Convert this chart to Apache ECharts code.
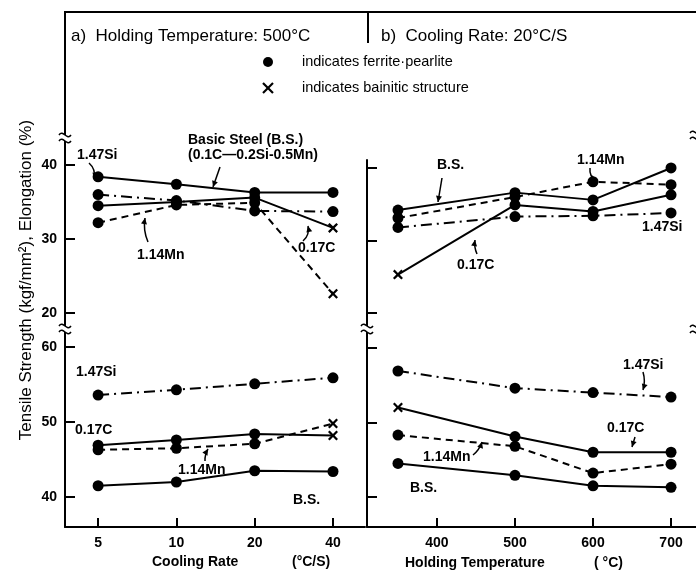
<!DOCTYPE html>
<html>
<head>
<meta charset="utf-8">
<script src="https://cdn.jsdelivr.net/npm/echarts@6/dist/echarts.min.js"></script>
<style>
html, body { margin: 0; padding: 0; background: #fff; }
#chart { width: 696px; height: 574px; }
</style>
</head>
<body>
<div id="chart"></div>
<script>
// x values and tick labels
var coolingRates = [5, 10, 20, 40];
var holdingTemps = [350, 500, 600, 700];
var rateTicks = [5, 10, 20, 40];
var tempTicks = [400, 500, 600, 700];
var elongTicks = [20, 30, 40];
var tensileTicks = [40, 50, 60];

// a) elongation vs cooling rate
var elongRateBS = [38.4, 37.4, 36.3, 36.3];
var elongRateSi = [36.0, 35.2, 33.8, 33.7];
var elongRateC  = [34.5, 35.0, 35.6, 31.5];
var elongRateMn = [32.2, 34.6, 34.9, 22.6];
// a) tensile strength vs cooling rate
var tsRateSi = [53.6, 54.3, 55.1, 55.9];
var tsRateC  = [46.9, 47.6, 48.4, 48.2];
var tsRateMn = [46.3, 46.5, 47.1, 49.8];
var tsRateBS = [41.5, 42.0, 43.5, 43.4];
// b) elongation vs holding temperature
var elongTempBS = [34.2, 36.6, 35.6, 40.0];
var elongTempMn = [33.1, 36.0, 38.1, 37.7];
var elongTempC  = [25.3, 34.9, 34.0, 36.3];
var elongTempSi = [31.8, 33.3, 33.4, 33.8];
// b) tensile strength vs holding temperature
var tsTempSi = [56.9, 54.6, 54.0, 53.4];
var tsTempC  = [52.0, 48.1, 46.0, 46.0];
var tsTempMn = [48.3, 46.8, 43.2, 44.4];
var tsTempBS = [44.5, 42.9, 41.5, 41.3];

// F = ferrite-pearlite, B = bainitic structure
var structAllF = ['F', 'F', 'F', 'F'];
var structRateLastB = ['F', 'F', 'F', 'B'];
var structTempFirstB = ['B', 'F', 'F', 'F'];

var FONT = "'Liberation Sans', Arial, sans-serif";
var CROSS = 'path://M0,1.6L1.6,0L5,3.4L8.4,0L10,1.6L6.6,5L10,8.4L8.4,10L5,6.6L1.6,10L0,8.4L3.4,5Z';
var SOLID = 'solid', DASHED = [7, 5], DASHDOT = [11, 5, 2, 5];

var chart = echarts.init(document.getElementById('chart'), null, { renderer: 'canvas' });

function makeSeries(idx, xs, ys, structure, dash) {
	var data = xs.map(function (x, i) {
		var bain = structure[i] === 'B';
		return {
			value: [x, ys[i]],
			symbol: bain ? CROSS : 'circle',
			symbolSize: bain ? 10 : 11
		};
	});
	return {
		type: 'line',
		xAxisIndex: idx,
		yAxisIndex: idx,
		data: data,
		lineStyle: { color: '#000', width: 2, type: dash },
		itemStyle: { color: '#000', borderWidth: 0 },
		emphasis: { disabled: true },
		z: 5
	};
}

function yAxis(idx, min, max, ticks, showLabels) {
	return {
		type: 'value', gridIndex: idx, min: min, max: max,
		axisLine: { show: true, lineStyle: { color: '#000', width: 2 } },
		axisTick: { show: true, inside: true, length: 10, customValues: ticks, lineStyle: { color: '#000', width: 2 } },
		axisLabel: { show: showLabels, customValues: ticks, color: '#000', fontFamily: FONT, fontWeight: 'bold', fontSize: 14, margin: 8 },
		splitLine: { show: false }
	};
}

function xAxis(idx, type, min, max, ticks, show) {
	return {
		type: type, gridIndex: idx, min: min, max: max, show: show,
		axisLine: { show: true, onZero: false, lineStyle: { color: '#000', width: 2 } },
		axisTick: { show: true, inside: true, length: 9, customValues: ticks, lineStyle: { color: '#000', width: 2 } },
		axisLabel: { show: true, customValues: ticks, color: '#000', fontFamily: FONT, fontWeight: 'bold', fontSize: 14, margin: 9 },
		splitLine: { show: false }
	};
}

var graphics = [];

function addText(t, x, y, size, weight, extra) {
	var el = {
		type: 'text', x: x, y: y, z: 20,
		style: {
			text: t, fill: '#000', fontFamily: FONT, fontSize: size, fontWeight: weight || 'normal',
			textAlign: 'left', textVerticalAlign: 'middle'
		}
	};
	if (extra) { for (var k in extra) el[k] = extra[k]; }
	graphics.push(el);
}

function addLine(x1, y1, x2, y2, w) {
	graphics.push({ type: 'line', z: 20, shape: { x1: x1, y1: y1, x2: x2, y2: y2 }, style: { stroke: '#000', lineWidth: w || 2 } });
}

function addArrow(x1, y1, x2, y2, bend) {
	var mx = (x1 + x2) / 2, my = (y1 + y2) / 2;
	var cx = mx + (bend || 0) * (y2 - y1) * 0.3, cy = my - (bend || 0) * (x2 - x1) * 0.3;
	graphics.push({ type: 'bezierCurve', z: 20, shape: { x1: x1, y1: y1, x2: x2, y2: y2, cpx1: cx, cpy1: cy }, style: { stroke: '#000', lineWidth: 1.5, fill: null } });
	var a = Math.atan2(y2 - cy, x2 - cx), L = 6, W = 3;
	var bx = x2 - L * Math.cos(a), by = y2 - L * Math.sin(a);
	graphics.push({ type: 'polygon', z: 20, shape: { points: [[x2, y2], [bx + W * Math.sin(a), by - W * Math.cos(a)], [bx - W * Math.sin(a), by + W * Math.cos(a)]] }, style: { fill: '#000' } });
}

function addBreak(x, y) {
	graphics.push({ type: 'rect', z: 19, shape: { x: x - 3, y: y - 3, width: 6, height: 6 }, style: { fill: '#fff' } });
	[-3, 3].forEach(function (d) {
		graphics.push({ type: 'bezierCurve', z: 20, shape: { x1: x - 6, y1: y + d, x2: x + 6, y2: y + d, cpx1: x - 2, cpy1: y + d - 6, cpx2: x + 2, cpy2: y + d + 6 }, style: { stroke: '#000', lineWidth: 1.5, fill: null } });
	});
}

// frame
addLine(64, 12, 696, 12, 2);
addLine(368, 12, 368, 43, 2);
addBreak(65, 138);
addBreak(65, 329);
addBreak(367, 329);
addBreak(696, 136);
addBreak(696, 330);

// headings and legend
addText('a)  Holding Temperature: 500°C', 71, 36, 17);
addText('b)  Cooling Rate: 20°C/S', 381, 36, 17);
graphics.push({ type: 'circle', z: 20, shape: { cx: 268, cy: 62, r: 5 }, style: { fill: '#000' } });
addText('indicates ferrite·pearlite', 302, 62, 14.5);
addLine(263, 83, 273, 93, 2.2);
addLine(273, 83, 263, 93, 2.2);
addText('indicates bainitic structure', 302, 88, 14.5);

// axis names
addText('Tensile Strength (kgf/mm²), Elongation (%)', 26, 280, 17, 'normal', { rotation: Math.PI / 2 });
graphics[graphics.length - 1].style.textAlign = 'center';
addText('Cooling Rate', 152, 562, 14, 'bold');
addText('(°C/S)', 292, 562, 14, 'bold');
addText('Holding Temperature', 405, 563, 14, 'bold');
addText('( °C)', 594, 563, 14, 'bold');

// curve labels
var LBL = 14;
addText('1.47Si', 77, 155, LBL, 'bold');
addText('Basic Steel (B.S.)', 188, 140, LBL, 'bold');
addText('(0.1C—0.2Si-0.5Mn)', 188, 155, LBL, 'bold');
addText('1.14Mn', 137, 255, LBL, 'bold');
addText('0.17C', 298, 248, LBL, 'bold');
addText('1.47Si', 76, 372, LBL, 'bold');
addText('0.17C', 75, 430, LBL, 'bold');
addText('1.14Mn', 178, 470, LBL, 'bold');
addText('B.S.', 293, 500, LBL, 'bold');
addText('B.S.', 437, 165, LBL, 'bold');
addText('1.14Mn', 577, 160, LBL, 'bold');
addText('0.17C', 457, 265, LBL, 'bold');
addText('1.47Si', 642, 227, LBL, 'bold');
addText('1.47Si', 623, 365, LBL, 'bold');
addText('0.17C', 607, 428, LBL, 'bold');
addText('1.14Mn', 423, 457, LBL, 'bold');
addText('B.S.', 410, 488, LBL, 'bold');

addArrow(89, 163, 94, 179, 1);
addArrow(220, 167, 213, 187, 0);
addArrow(148, 242, 145, 218, 0.5);
addArrow(303, 241, 308, 226, -1);
addArrow(205, 461, 208, 449, 0.5);
addArrow(442, 178, 438, 202, 0);
addArrow(590, 168, 596, 181, -1);
addArrow(477, 254, 475, 240, 0.5);
addArrow(643, 372, 643, 390, 0.5);
addArrow(635, 437, 632, 447, 0);
addArrow(473, 455, 482, 442, -0.5);

var option = {
	backgroundColor: '#fff',
	animation: false,
	grid: [
		{ left: 65, top: 12, width: 300, height: 316 },
		{ left: 65, top: 330, width: 300, height: 197 },
		{ left: 367, top: 160, width: 329, height: 168 },
		{ left: 367, top: 330, width: 329, height: 197 }
	],
	xAxis: [
		xAxis(0, 'log', 3.73, 53.1, rateTicks, false),
		xAxis(1, 'log', 3.73, 53.1, rateTicks, true),
		xAxis(2, 'value', 310.3, 732, tempTicks, false),
		xAxis(3, 'value', 310.3, 732, tempTicks, true)
	],
	yAxis: [
		yAxis(0, 17.97, 60.68, elongTicks, true),
		yAxis(1, 36, 62.27, tensileTicks, true),
		yAxis(2, 17.93, 41.1, elongTicks, false),
		yAxis(3, 35.97, 62.4, tensileTicks, false)
	],
	series: [
		makeSeries(0, coolingRates, elongRateBS, structAllF, SOLID),
		makeSeries(0, coolingRates, elongRateSi, structAllF, DASHDOT),
		makeSeries(0, coolingRates, elongRateC, structRateLastB, SOLID),
		makeSeries(0, coolingRates, elongRateMn, structRateLastB, DASHED),
		makeSeries(1, coolingRates, tsRateSi, structAllF, DASHDOT),
		makeSeries(1, coolingRates, tsRateC, structRateLastB, SOLID),
		makeSeries(1, coolingRates, tsRateMn, structRateLastB, DASHED),
		makeSeries(1, coolingRates, tsRateBS, structAllF, SOLID),
		makeSeries(2, holdingTemps, elongTempBS, structAllF, SOLID),
		makeSeries(2, holdingTemps, elongTempMn, structAllF, DASHED),
		makeSeries(2, holdingTemps, elongTempC, structTempFirstB, SOLID),
		makeSeries(2, holdingTemps, elongTempSi, structAllF, DASHDOT),
		makeSeries(3, holdingTemps, tsTempSi, structAllF, DASHDOT),
		makeSeries(3, holdingTemps, tsTempC, structTempFirstB, SOLID),
		makeSeries(3, holdingTemps, tsTempMn, structAllF, DASHED),
		makeSeries(3, holdingTemps, tsTempBS, structAllF, SOLID)
	],
	graphic: graphics
};

chart.setOption(option);
</script>
</body>
</html>
